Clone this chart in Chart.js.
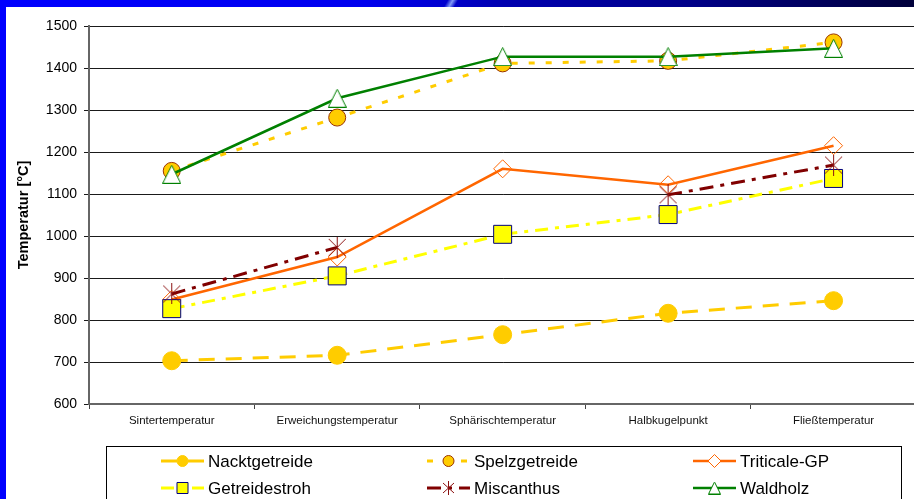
<!DOCTYPE html>
<html>
<head>
<meta charset="utf-8">
<script src="https://cdn.jsdelivr.net/npm/chart.js@4/dist/chart.umd.min.js"></script>
<style>
  html, body { margin: 0; padding: 0; width: 914px; height: 499px; overflow: hidden; background: #0000FF; }
  #band { position: absolute; left: 0; top: 0; width: 914px; height: 7px;
    background: linear-gradient(to right, #0000FF 0%, #0000EE 40%, #0000D2 48%, #0000B0 55%, #00008A 75%, #00003A 100%); }
  #streak { position: absolute; left: 440px; top: 0; width: 22px; height: 7px;
    background: linear-gradient(120deg, rgba(120,150,255,0) 30%, rgba(150,180,255,0.85) 50%, rgba(120,150,255,0) 70%); }
  #frame { position: absolute; left: 6px; top: 7px; width: 924px; height: 492px; background: #FFFFFF; }
  canvas { display: block; }
</style>
</head>
<body>
<div id="band"></div>
<div id="streak"></div>
<div id="frame"><canvas id="chart" width="924" height="492"></canvas></div>
<script>
// Ash melting behaviour of biomass fuels, temperatures in °C
const categories = ['Sintertemperatur', 'Erweichungstemperatur', 'Sphärischtemperatur', 'Halbkugelpunkt', 'Fließtemperatur'];
const seriesNames = ['Nacktgetreide', 'Spelzgetreide', 'Triticale-GP', 'Getreidestroh', 'Miscanthus', 'Waldholz'];
const nacktgetreide = [703, 716, 765, 816, 846];
const spelzgetreide = [1155, 1282, 1411, 1417, 1461];
const triticaleGP   = [849, 950, 1160, 1122, 1215];
const getreidestroh = [827, 905, 1004, 1051, 1137];
const miscanthus    = [862, 973, null, 1098, 1169];
const waldholz      = [1147, 1328, 1427, 1427, 1447];
const yMin = 600, yMax = 1500, yStep = 100;

const FONT = "'Liberation Sans', Arial, sans-serif";

// asterisk marker: X with a vertical stroke
function makeStar(w, h) {
  const c = document.createElement('canvas');
  c.width = w; c.height = h;
  const g = c.getContext('2d');
  g.strokeStyle = '#8B1010';
  g.lineWidth = 1;
  g.beginPath();
  g.moveTo(1, 2); g.lineTo(w - 1, h - 2);
  g.moveTo(w - 1, 2); g.lineTo(1, h - 2);
  g.moveTo(w / 2, 0); g.lineTo(w / 2, h);
  g.stroke();
  return c;
}
// open triangle marker with white fill
function makeTriangle(s) {
  const c = document.createElement('canvas');
  c.width = s; c.height = s;
  const g = c.getContext('2d');
  g.fillStyle = '#FFFFFF';
  g.strokeStyle = '#008000';
  g.lineWidth = 1;
  g.beginPath();
  g.moveTo(s / 2, 0.5); g.lineTo(s - 0.5, s - 0.5); g.lineTo(0.5, s - 0.5); g.closePath();
  g.fill(); g.stroke();
  return c;
}
const starImg = makeStar(19, 21);
const triImg = makeTriangle(19);
const starSmall = makeStar(13, 14);
const triSmall = makeTriangle(13);

const datasets = [
  { label: seriesNames[0], data: nacktgetreide, borderColor: '#FFCC00', borderWidth: 3, borderDash: [16, 11],
    pointStyle: 'circle', pointRadius: 9, pointBackgroundColor: '#FFCC00', pointBorderColor: '#FFCC00', pointBorderWidth: 1,
    legendStyle: 'circle', legendRadius: 5.5, order: 6 },
  { label: seriesNames[1], data: spelzgetreide, borderColor: '#FFCC00', borderWidth: 3, borderDash: [6, 11],
    pointStyle: 'circle', pointRadius: 8.5, pointBackgroundColor: '#FFCC00', pointBorderColor: '#993300', pointBorderWidth: 1,
    legendStyle: 'circle', legendRadius: 5.5, order: 5 },
  { label: seriesNames[2], data: triticaleGP, borderColor: '#FF6600', borderWidth: 2.5, borderDash: [],
    pointStyle: 'rectRot', pointRadius: 9, pointBackgroundColor: 'rgba(0,0,0,0)', pointBorderColor: '#FF6600', pointBorderWidth: 1,
    legendStyle: 'rectRot', legendRadius: 6.5, legendFill: '#FFFFFF', order: 4 },
  { label: seriesNames[3], data: getreidestroh, borderColor: '#FFFF00', borderWidth: 3, borderDash: [13, 7, 4, 7],
    pointStyle: 'rect', pointRadius: 12.7, pointBackgroundColor: '#FFFF00', pointBorderColor: '#000080', pointBorderWidth: 1,
    legendStyle: 'rect', legendRadius: 7.8, order: 3 },
  { label: seriesNames[4], data: miscanthus, borderColor: '#800000', borderWidth: 3, borderDash: [14, 7, 4, 7],
    pointStyle: starImg, pointRadius: 10, pointBackgroundColor: '#800000', pointBorderColor: '#800000', pointBorderWidth: 1,
    legendStyle: starSmall, legendRadius: 6, order: 2 },
  { label: seriesNames[5], data: waldholz, borderColor: '#008000', borderWidth: 2.5, borderDash: [],
    pointStyle: triImg, pointRadius: 10, pointBackgroundColor: '#FFFFFF', pointBorderColor: '#008000', pointBorderWidth: 1,
    legendStyle: triSmall, legendRadius: 6, order: 1 }
];
datasets.forEach(d => { d.fill = false; d.tension = 0; d.spanGaps = false; d.pointHoverRadius = d.pointRadius; });

// boxed legend below the plot: three columns, two rows, line sample with marker
const boxLegend = {
  id: 'boxLegend',
  afterDraw(chart) {
    const ctx = chart.ctx;
    ctx.save();
    ctx.strokeStyle = '#000000';
    ctx.lineWidth = 1;
    ctx.strokeRect(100.5, 439.5, 795, 80);
    const colX = [155, 421, 687];
    const rowY = [454, 481];
    chart.data.datasets.forEach((ds, i) => {
      const x0 = colX[i % 3], y = rowY[Math.floor(i / 3)];
      ctx.save();
      ctx.strokeStyle = ds.borderColor;
      ctx.lineWidth = ds.borderWidth;
      ctx.setLineDash(ds.borderDash || []);
      ctx.beginPath();
      ctx.moveTo(x0, y); ctx.lineTo(x0 + 43, y);
      ctx.stroke();
      ctx.setLineDash([]);
      ctx.fillStyle = ds.legendFill || ds.pointBackgroundColor;
      ctx.strokeStyle = ds.pointBorderColor;
      ctx.lineWidth = ds.pointBorderWidth;
      Chart.helpers.drawPoint(ctx, { pointStyle: ds.legendStyle, rotation: 0, radius: ds.legendRadius, borderWidth: ds.pointBorderWidth }, x0 + 21.5, y);
      ctx.restore();
      ctx.fillStyle = '#000000';
      ctx.font = "17px " + FONT;
      ctx.textBaseline = 'middle';
      ctx.textAlign = 'left';
      ctx.fillText(ds.label, x0 + 47, y + 1);
    });
    ctx.restore();
  }
};

new Chart(document.getElementById('chart'), {
  type: 'line',
  data: { labels: categories, datasets },
  plugins: [boxLegend],
  options: {
    responsive: false,
    animation: false,
    devicePixelRatio: 1,
    layout: { padding: { left: 0, top: 19, right: 9.5, bottom: 0 } },
    plugins: { legend: { display: false }, tooltip: { enabled: false } },
    scales: {
      x: {
        type: 'category',
        offset: true,
        grid: { display: true, drawOnChartArea: false, drawTicks: true, tickLength: 5, offset: true, color: '#444444' },
        border: { display: true, color: '#666666', width: 2 },
        ticks: { font: { family: FONT, size: 11.5 }, color: '#111111', padding: 5, maxRotation: 0, autoSkip: false },
        afterFit: s => { s.height = 95; }
      },
      y: {
        min: yMin, max: yMax,
        ticks: { stepSize: yStep, font: { family: FONT, size: 14 }, color: '#000000', padding: 7,
                 callback: v => String(v) },
        grid: { color: '#1A1A1A', lineWidth: 1, drawTicks: true, tickLength: 5 },
        border: { display: true, color: '#666666', width: 2 },
        title: { display: true, text: 'Temperatur [°C]', color: '#000000',
                 font: { family: FONT, size: 14.5, weight: 'bold' }, padding: { top: 9, bottom: 0 } },
        afterFit: s => { s.width = 83; }
      }
    }
  }
});
</script>
</body>
</html>
